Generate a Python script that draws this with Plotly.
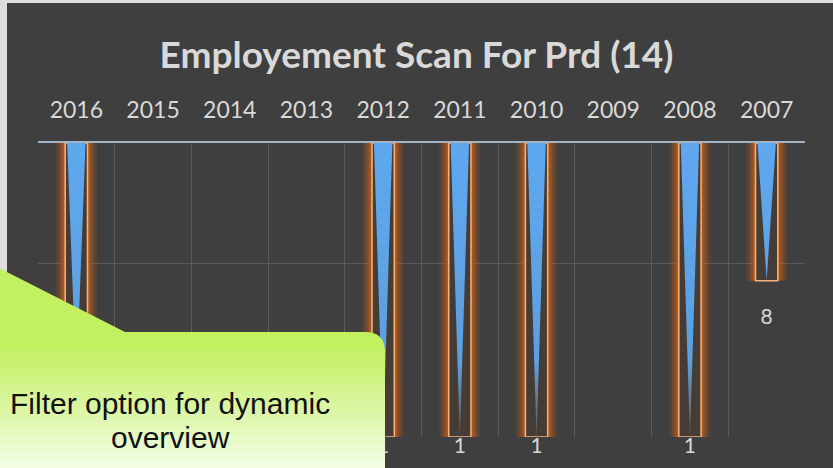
import math
import plotly.graph_objects as go

# datos
years = ['2016', '2015', '2014', '2013', '2012', '2011', '2010', '2009', '2008', '2007']
counts = [2, 0, 0, 0, 1, 1, 1, 0, 1, 8]
axis_top = 50  # el eje log cruza arriba

# area de trazado en pixeles (para colocar decoracion)
L, R, T, B = 38, 805, 143, 437
W, H = 833, 468


def px2x(px):
    return (px - L) / (R - L)


def py2y(py):
    return (B - py) / (B - T)


bg = '#3f3f3f'
txt = '#d9d9d9'
idx = [i for i, v in enumerate(counts) if v > 0]
vals = [counts[i] for i in idx]

fig = go.Figure()

# brillo naranja alrededor de las barras
for w, a in [(0.54, 0.16), (0.47, 0.24), (0.41, 0.32), (0.36, 0.45), (0.32, 0.6)]:
    fig.add_trace(go.Bar(x=idx, y=[v - axis_top for v in vals], base=axis_top, width=w,
                         marker=dict(color='rgba(200,95,25,%s)' % a, line=dict(width=0)),
                         hoverinfo='skip', showlegend=False))

# barra principal con contorno
fig.add_trace(go.Bar(x=idx, y=[v - axis_top for v in vals], base=axis_top, width=0.29,
                     marker=dict(color='#463c36', line=dict(color='#f5b27e', width=1.5)),
                     hoverinfo='skip', showlegend=False))

# triangulos azules dentro de cada barra
tx, ty = [], []
hw = 0.24 / 2
for i, v in zip(idx, vals):
    tx += [i - hw, i + hw, i, i - hw, None]
    ty += [axis_top, axis_top, v, axis_top, None]
fig.add_trace(go.Scatter(x=tx, y=ty, mode='lines', fill='toself', line=dict(width=0),
                         fillgradient=dict(type='vertical',
                                           colorscale=[[0, 'rgba(120,135,150,0.5)'],
                                                       [0.25, '#5b9fe0'],
                                                       [1, '#5fa8ee']]),
                         hoverinfo='skip', showlegend=False))

# etiquetas de valor (debajo del final de cada barra)
labels = [str(v) if v <= 1 else '<br>' + str(v) for v in vals]
fig.add_trace(go.Scatter(x=idx, y=vals, mode='text', text=labels, textposition='bottom center',
                         textfont=dict(family='Lato', size=21, color=txt),
                         cliponaxis=False, hoverinfo='skip', showlegend=False))

# bordes claros y globo de texto verde
shapes = []
shapes.append(dict(type='rect', xref='paper', yref='paper', x0=px2x(-2), x1=px2x(7),
                   y0=py2y(480), y1=py2y(-2), fillcolor='#dedede', line=dict(width=0)))
shapes.append(dict(type='rect', xref='paper', yref='paper', x0=px2x(-2), x1=px2x(840),
                   y0=py2y(3), y1=py2y(-2), fillcolor='#dedede', line=dict(width=0)))
r = 20
path = 'M %f,%f L %f,%f L %f,%f Q %f,%f %f,%f L %f,%f L %f,%f L %f,%f Z' % (
    px2x(-62), py2y(237), px2x(125), py2y(332), px2x(385 - r), py2y(332),
    px2x(385), py2y(332), px2x(385), py2y(332 + r),
    px2x(385), py2y(480), px2x(-5), py2y(480), px2x(-5), py2y(300))
shapes.append(dict(type='path', xref='paper', yref='paper', path=path,
                   fillcolor='#c2f05e', line=dict(width=0)))
c0 = (194, 240, 94)
c1 = (242, 253, 228)
n = 14
y_start, y_end = 350, 470
for k in range(n):
    f = (k + 1) / n
    col = 'rgb(%d,%d,%d)' % tuple(int(c0[j] + (c1[j] - c0[j]) * f) for j in range(3))
    ya = y_start + (y_end - y_start) * k / n
    yb = y_start + (y_end - y_start) * (k + 1) / n + 1
    shapes.append(dict(type='rect', xref='paper', yref='paper', x0=px2x(-5), x1=px2x(385),
                       y0=py2y(yb), y1=py2y(ya), fillcolor=col, line=dict(width=0)))

fig.add_annotation(xref='paper', yref='paper', x=px2x(170), y=py2y(403),
                   xanchor='center', yanchor='middle',
                   text='Filter option for dynamic', showarrow=False,
                   font=dict(family='Liberation Sans', size=30, color='#111111'))
fig.add_annotation(xref='paper', yref='paper', x=px2x(170), y=py2y(437),
                   xanchor='center', yanchor='middle',
                   text='overview', showarrow=False,
                   font=dict(family='Liberation Sans', size=30, color='#111111'))

fig.update_layout(
    width=W, height=H,
    barmode='overlay',
    paper_bgcolor=bg, plot_bgcolor=bg,
    margin=dict(l=L, r=W - R, t=T, b=H - B),
    title=dict(text='<b>Employement Scan For Prd (14)</b>', x=0.5, xanchor='center',
               y=1 - 55 / H, yanchor='middle',
               font=dict(family='Lato', size=37, color=txt)),
    shapes=shapes,
    xaxis=dict(range=[-0.5, 9.5], side='top', tickvals=list(range(len(years))), ticktext=years,
               tickfont=dict(family='Lato', size=23, color=txt), ticks='', ticklabelstandoff=14,
               showgrid=False, showline=True, linecolor='#a3b4c6', linewidth=1.5,
               minor=dict(tickvals=[i - 0.5 for i in range(len(years) + 1)], showgrid=True,
                          gridcolor='#5a5a5a', gridwidth=1, ticks=''),
               zeroline=False, fixedrange=True),
    yaxis=dict(type='log', range=[0, math.log10(axis_top)], tickvals=[10], showticklabels=False,
               showgrid=True, gridcolor='#5a5a5a', gridwidth=1, zeroline=False, showline=False,
               fixedrange=True),
)

fig.write_html('out.html', config={'displayModeBar': False},
               post_script="document.body.style.margin='0';")
